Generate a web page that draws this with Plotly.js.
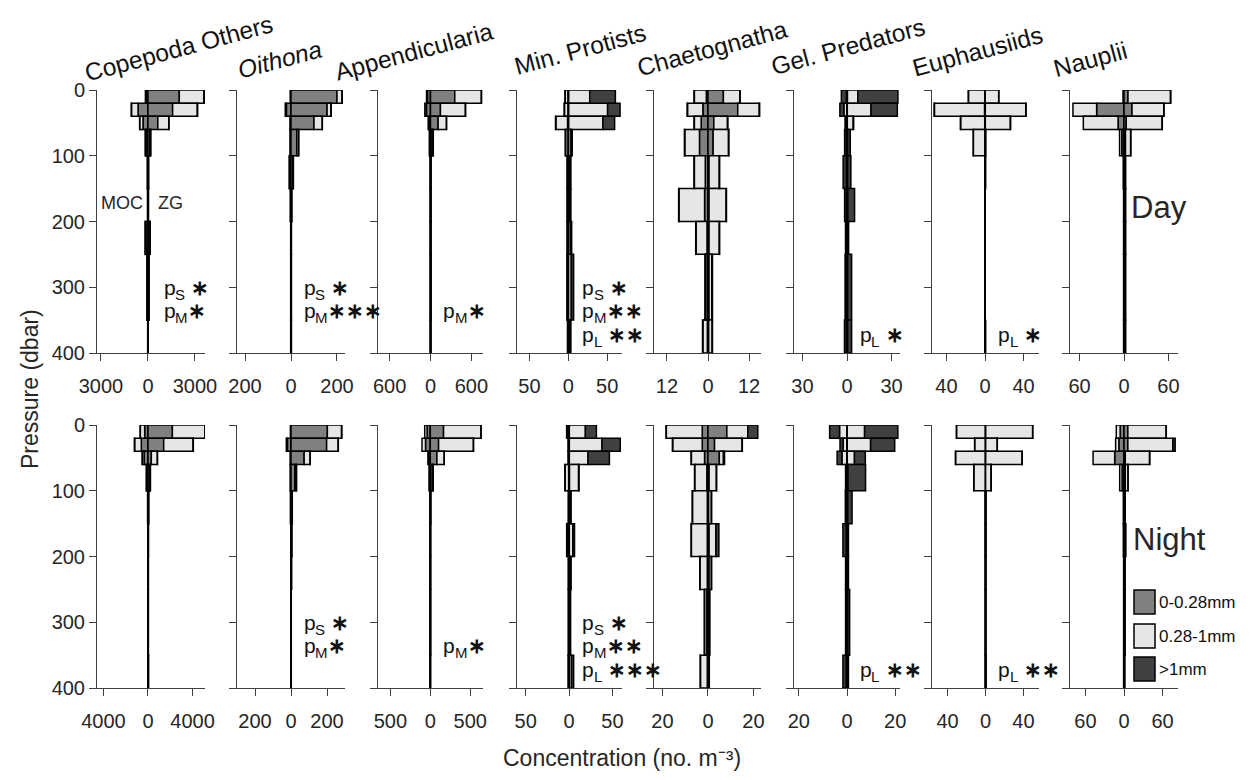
<!DOCTYPE html>
<html><head><meta charset="utf-8">
<script src="https://cdn.plot.ly/plotly-3.0.1.min.js"></script>
<style>body{margin:0;background:#fff}#chart{width:1260px;height:780px}</style>
</head><body><div id="chart"></div>
<script>
// ---------------- DATA ----------------
// depth bins (dbar)
const binTop    = [0, 20, 40, 60, 100, 150, 200, 250, 350];
const binBottom = [20, 40, 60, 100, 150, 200, 250, 350, 400];
const taxa = ["Copepoda Others", "Oithona", "Appendicularia", "Min. Protists",
              "Chaetognatha", "Gel. Predators", "Euphausiids", "Nauplii"];
const taxaItalic = [false, true, false, false, false, false, false, false];
const sizeClasses = ["0-0.28mm", "0.28-1mm", ">1mm"];
const sigClasses = ["S", "M", "L"];
const dayTicks   = [3000, 200, 600, 50, 12, 30, 40, 60];
const nightTicks = [4000, 200, 500, 50, 20, 20, 40, 60];

// concentrations (no. m^-3), rows = [0-0.28mm, 0.28-1mm, >1mm], columns = depth bins
// ---- Day ----
const copepodaDayMOC = [[100,630,315,120,20,15,130,40,10],[50,420,210,40,10,5,40,15,5],[5,10,5,10,3,2,10,5,2]];
const copepodaDayZG  = [[2000,1575,630,120,25,20,100,50,15],[1575,1575,700,50,10,8,40,15,5],[20,20,10,8,3,2,5,3,1]];
const oithonaDayMOC  = [[2,20,3,3,6,2,1,1,1],[1,5,1,1,2,1,0.5,0.5,0.5],[0,0,0,0,0,0,0,0,0]];
const oithonaDayZG   = [[200,157,100,25,8,2,1,1,1],[22,17,36,8,2,1,0.5,0.5,0.5],[1,1,0.5,0.5,0.2,0.1,0.1,0.1,0.1]];
const appendDayMOC   = [[45,60,25,12,3,2,2,2,1],[13,23,9,5,1,1,1,1,1],[0,0,0,0,0,0,0,0,0]];
const appendDayZG    = [[356,146,112,25,4,3,3,4,2],[390,366,122,15,2,2,2,3,1],[2,2,1,1,0,0,0,0,0]];
const protistDayMOC  = [[0.5,0.5,1,0.5,0.3,0.3,0.3,0.3,0.3],[3.5,4.5,15,3,1,1,1,1,0.5],[0.3,0.3,0.5,0.5,0.3,0.3,0.3,0.5,0.3]];
const protistDayZG   = [[0.5,0.5,0.5,0.5,0.3,0.3,0.3,0.3,0.3],[27,50,44,3,2,2,2.5,3.5,2],[33,16,15,1.5,1,1,1.5,3,1]];
const chaetoDayMOC   = [[0.5,1.5,2,2.5,0.8,1,0.3,0.3,0.2],[3.5,4.5,2,4.3,3.2,7.5,3.2,0.5,1.3],[0.1,0.1,0.1,0.1,0.1,0.1,0.1,0.1,0.1]];
const chaetoDayZG    = [[4.5,8.7,1.7,1.5,0.3,0.3,0.3,0.3,0.2],[4.8,6.3,4,4.5,3,5,3,0.8,1],[0.1,0.1,0.1,0.1,0.1,0.1,0.1,0.2,0.1]];
const gelDayMOC      = [[0.1,0.1,0.1,0.1,0.1,0.1,0.1,0.1,0.1],[0.3,2,1,0.3,0.3,0.3,0.2,0.2,0.3],[3.4,2.7,0.1,1.2,2.2,1.2,0.7,1,1.3]];
const gelDayZG       = [[0.3,0.2,0.2,0.1,0.1,0.1,0.1,0.1,0.1],[7,16,4,0.3,0.3,0.5,0.2,0.3,0.3],[27,17.7,0.3,1.8,2.2,4.5,0.8,2.7,2.7]];
const euphDayMOC     = [[0.2,0.5,0.3,0.1,0,0,0,0,0],[17,52,25,12,0.3,0.2,0.2,0.1,0.1],[0.1,0.3,0.2,0.1,0,0,0,0,0]];
const euphDayZG      = [[0.2,0.3,0.3,0.1,0,0,0,0,0],[14,42,26,0.5,0.5,0.2,0.1,0.1,0.5],[0.1,0.3,0.2,0.1,0,0,0,0,0]];
const naupDayMOC     = [[0.7,37,8,3,0.5,0.3,0.3,0.3,0.3],[0.5,32,47,3,0.5,0.3,0.3,0.3,0.3],[0,0,0,0,0,0,0,0,0]];
const naupDayZG      = [[5.4,10.8,3,2,1,1,1,1,1],[57.5,43,48.5,7,1,1,1,1,1],[0.3,0.3,0.3,0.2,0.1,0.1,0.1,0.1,0.1]];
// ---- Night ----
const copepodaNightMOC = [[300,600,350,100,20,15,15,15,10],[390,600,160,40,10,5,5,5,5],[10,20,10,5,2,2,2,2,2]];
const copepodaNightZG  = [[2190,1410,300,150,40,25,20,20,30],[2910,2640,540,60,15,10,10,10,10],[20,20,10,5,2,2,2,2,2]];
const oithonaNightMOC  = [[2,20,3,3,2,1,1,1,1],[1,6,1,1,1,0.5,0.5,0.5,0.5],[0,0,0,0,0,0,0,0,0]];
const oithonaNightZG   = [[202,198,73,22,5,3,2,1,1],[79,64,33,8,2,1,0.5,0.5,0.5],[1,1,0.5,0.5,0.2,0.1,0.1,0.1,0.1]];
const appendNightMOC   = [[40,60,20,10,2,2,2,2,1],[30,44,10,5,1,1,1,1,1],[0,0,0,0,0,0,0,0,0]];
const appendNightZG    = [[166,104,83,25,3,2,2,2,1],[469,436,91,10,2,1,1,1,1],[1,1,1,1,0,0,0,0,0]];
const protistNightMOC  = [[0.3,0.3,0.3,0.5,0.3,0.3,0.3,0.3,0.3],[1,0.5,0.5,4,0.3,1.5,0.3,0.3,0.3],[1.5,0.3,0.3,0.3,0.3,1,0.3,0.3,0.5]];
const protistNightZG   = [[0.3,0.3,0.3,0.5,0.3,0.3,0.3,0.3,0.3],[18.5,37.7,21.6,10.5,1.5,4,1.5,1,2.5],[12.7,21,24.6,0.5,0.5,2,0.5,0.5,2.5]];
const chaetoNightMOC   = [[2.5,2.5,1.5,0.5,0.3,0.3,0.3,0.5,0.3],[15.8,13,5.8,5.3,6.5,7,3.2,1,3],[0.1,0.1,0.1,0.1,0.1,0.1,0.1,0.1,0.1]];
const chaetoNightZG    = [[8.3,2.9,5,0.5,0.3,0.5,0.5,0.3,0.3],[9.2,12.1,1.8,3.2,1.2,3,1,0.4,0.2],[4.4,0.1,0.5,0.1,0.1,1.3,0.1,0.1,0.1]];
const gelNightMOC      = [[0.1,0.1,0.1,0.1,0.1,0.1,0.1,0.1,0.1],[3,1.5,2,0.3,0.3,0.3,0.2,0.2,0.3],[4.1,1.3,2,0.2,0.3,1.3,0.3,0.3,1.3]];
const gelNightZG       = [[0.1,0.1,0.1,0.1,0.1,0.1,0.1,0.1,0.1],[7.2,9.7,3,0.3,0.2,0.2,0.2,0.2,0.2],[13.8,10,4.5,7.3,1.8,0.3,0.3,0.8,0.3]];
const euphNightMOC     = [[0.2,0.2,0.2,0.1,0,0,0,0,0],[30.4,11.2,31.4,12.2,0.3,0.3,0.2,0.2,0.2],[0.1,0.1,0.1,0.1,0,0,0,0,0]];
const euphNightZG      = [[0.2,0.2,0.2,0.1,0,0,0,0,0],[49.6,12.2,38.4,5.8,0.3,0.3,0.2,0.2,0.5],[0.1,0.1,0.1,0.1,0,0,0,0,0]];
const naupNightMOC     = [[6,8,14.5,3,0.5,0.5,0.3,0.3,0.3],[6,5,33.6,3.7,0.5,0.5,0.3,0.3,0.3],[0,0,0,0,0,0,0,0,0]];
const naupNightZG      = [[6,6,2,2,1,1.5,1,1,0.5],[59.5,70,37.8,4.2,0.5,1,0.5,0.5,0.5],[0.3,3.6,0.2,0.1,0.1,0.1,0.1,0.1,0.1]];

// significance stars for p_S, p_M, p_L (leading space = gap after subscript)
const sigDay = [
  [" ∗", "∗", ""], [" ∗", "∗∗∗", ""], ["", "∗", ""], [" ∗", "∗∗", " ∗∗"],
  ["", "", ""], ["", "", " ∗"], ["", "", " ∗"], ["", "", ""]
];
const sigNight = [
  ["", "", ""], [" ∗", "∗", ""], ["", "∗", ""], [" ∗", "∗∗", " ∗∗∗"],
  ["", "", ""], ["", "", " ∗∗"], ["", "", " ∗∗"], ["", "", ""]
];

const dayMOC   = [copepodaDayMOC, oithonaDayMOC, appendDayMOC, protistDayMOC, chaetoDayMOC, gelDayMOC, euphDayMOC, naupDayMOC];
const dayZG    = [copepodaDayZG, oithonaDayZG, appendDayZG, protistDayZG, chaetoDayZG, gelDayZG, euphDayZG, naupDayZG];
const nightMOC = [copepodaNightMOC, oithonaNightMOC, appendNightMOC, protistNightMOC, chaetoNightMOC, gelNightMOC, euphNightMOC, naupNightMOC];
const nightZG  = [copepodaNightZG, oithonaNightZG, appendNightZG, protistNightZG, chaetoNightZG, gelNightZG, euphNightZG, naupNightZG];

// ---------------- LAYOUT / STYLE ----------------
const W = 1260, H = 780;
const colors = ["#808080", "#e6e6e6", "#404040"];
const panelLeft  = [97, 237, 378, 517, 654, 794, 932, 1070];
const panelRight = [205, 345, 483, 622, 761, 900, 1039, 1178];
const rowTop = [90, 425], rowBottom = [353, 688];
const xRangeDay   = [[-3250,3640],[-235,235],[-770,770],[-66,69],[-15.8,15.5],[-35.7,35.7],[-55,56],[-73,73]];
const xRangeNight = [[-4580,5120],[-300,300],[-655,660],[-60,61],[-23.7,23.3],[-22,22],[-56.5,56.5],[-84,84]];
const titlePos = [[178,48],[280,60],[414,52],[580,50],[712,48],[848,46],[977,52],[1090,60]];
const sigDepth = [300, 336, 372];
const subWidth = {S: 10, M: 12.5, L: 8.5};
const axisCol = "#404040", textCol = "#262626";
const FONT = "Liberation Sans, Arial, Helvetica, sans-serif";

const centers = binTop.map((t, i) => (t + binBottom[i]) / 2);
const widths  = binTop.map((t, i) => binBottom[i] - t);
const px = x => x / W, py = y => 1 - y / H;

const traces = [];
const layout = {
  width: W, height: H, margin: {l: 0, r: 0, t: 0, b: 0},
  paper_bgcolor: "#fff", plot_bgcolor: "rgba(0,0,0,0)",
  barmode: "relative", showlegend: false,
  font: {family: FONT, color: textCol, size: 20},
  annotations: [], shapes: []
};

function note(o) {
  layout.annotations.push(Object.assign({showarrow: false, xanchor: "left", yanchor: "middle"}, o));
}

for (let r = 0; r < 2; r++) {
  const MOC = r === 0 ? dayMOC : nightMOC;
  const ZG = r === 0 ? dayZG : nightZG;
  const ticks = r === 0 ? dayTicks : nightTicks;
  const ranges = r === 0 ? xRangeDay : xRangeNight;
  const sig = r === 0 ? sigDay : sigNight;
  for (let c = 0; c < 8; c++) {
    const k = r * 8 + c + 1;
    const xa = k === 1 ? "x" : "x" + k, ya = k === 1 ? "y" : "y" + k;
    for (let s = 0; s < 3; s++) {
      traces.push({type: "bar", orientation: "h", xaxis: xa, yaxis: ya,
        y: centers, width: widths, x: MOC[c][s].map(v => -v),
        marker: {color: colors[s], line: {color: "#000", width: 1.5}},
        name: "MOC " + sizeClasses[s], hoverinfo: "x+y"});
    }
    for (let s = 0; s < 3; s++) {
      traces.push({type: "bar", orientation: "h", xaxis: xa, yaxis: ya,
        y: centers, width: widths, x: ZG[c][s],
        marker: {color: colors[s], line: {color: "#000", width: 1.5}},
        name: "ZG " + sizeClasses[s], hoverinfo: "x+y"});
    }
    const t = ticks[c];
    layout["xaxis" + (k === 1 ? "" : k)] = {
      domain: [px(panelLeft[c]), px(panelRight[c])], anchor: ya, range: ranges[c],
      tickvals: [-t, 0, t], ticktext: [String(t), "0", String(t)],
      ticks: "outside", ticklen: 7, tickwidth: 1, tickcolor: axisCol,
      showline: true, linecolor: axisCol, linewidth: 1, showgrid: false,
      zeroline: true, zerolinecolor: "#000", zerolinewidth: 1.5,
      tickfont: {size: 20, color: textCol, family: FONT}, ticklabelstandoff: 8, fixedrange: true
    };
    layout["yaxis" + (k === 1 ? "" : k)] = {
      domain: [py(rowBottom[r]), py(rowTop[r])], anchor: xa, range: [400, 0],
      tickvals: [0, 100, 200, 300, 400], showticklabels: c === 0,
      ticks: "outside", ticklen: 7, tickwidth: 1, tickcolor: axisCol,
      showline: true, linecolor: axisCol, linewidth: 1, showgrid: false, zeroline: false,
      tickfont: {size: 20, color: textCol, family: FONT}, fixedrange: true
    };
    for (let j = 0; j < 3; j++) {
      const st = sig[c][j];
      if (!st) continue;
      const letter = sigClasses[j];
      const base = {xref: xa + " domain", yref: ya, x: 0.6, y: sigDepth[j]};
      note(Object.assign({}, base, {text: "p", font: {size: 21, color: "#111", family: FONT}}));
      note(Object.assign({}, base, {text: letter, xshift: 11.5, yshift: -7,
        font: {size: 15, color: "#111", family: FONT}}));
      const gap = st.startsWith(" ") ? 6 : 0.5;
      note(Object.assign({}, base, {text: st.trim(), xshift: 11.5 + subWidth[letter] + gap,
        font: {size: 21, color: "#111", family: FONT, weight: "bold"}}));
    }
  }
}

// panel titles
taxa.forEach((name, c) => {
  note({xref: "paper", yref: "paper", x: px(titlePos[c][0]), y: py(titlePos[c][1]),
    xanchor: "center", text: name, textangle: -15,
    font: {size: 24.5, color: "#111", family: FONT, style: taxaItalic[c] ? "italic" : "normal"}});
});
// axis titles
note({xref: "paper", yref: "paper", x: px(30), y: py(389), xanchor: "center",
  text: "Pressure (dbar)", textangle: -90, font: {size: 23, color: textCol, family: FONT}});
note({xref: "paper", yref: "paper", x: px(622), y: py(758), xanchor: "center",
  text: "Concentration (no. m⁻³)", font: {size: 23, color: textCol, family: FONT}});
// Day / Night, MOC / ZG
note({xref: "paper", yref: "paper", x: px(1129), y: py(208), text: "Day",
  font: {size: 31, color: textCol, family: FONT}});
note({xref: "paper", yref: "paper", x: px(1131), y: py(539), text: "Night",
  font: {size: 31, color: textCol, family: FONT}});
note({xref: "paper", yref: "paper", x: px(99), y: py(203), text: "MOC",
  font: {size: 18, color: textCol, family: FONT}});
note({xref: "paper", yref: "paper", x: px(156), y: py(203), text: "ZG",
  font: {size: 18, color: textCol, family: FONT}});
// legend (manual)
const legY = [602, 636, 669];
sizeClasses.forEach((lab, i) => {
  layout.shapes.push({type: "rect", xref: "paper", yref: "paper",
    x0: px(1134), x1: px(1155), y0: py(legY[i] + 12), y1: py(legY[i] - 12),
    fillcolor: colors[i], line: {color: "#000", width: 1.5}});
  note({xref: "paper", yref: "paper", x: px(1157), y: py(legY[i]), text: lab,
    font: {size: 17, color: "#111", family: FONT}});
});

Plotly.newPlot("chart", traces, layout, {staticPlot: true, displayModeBar: false});
</script></body></html>
